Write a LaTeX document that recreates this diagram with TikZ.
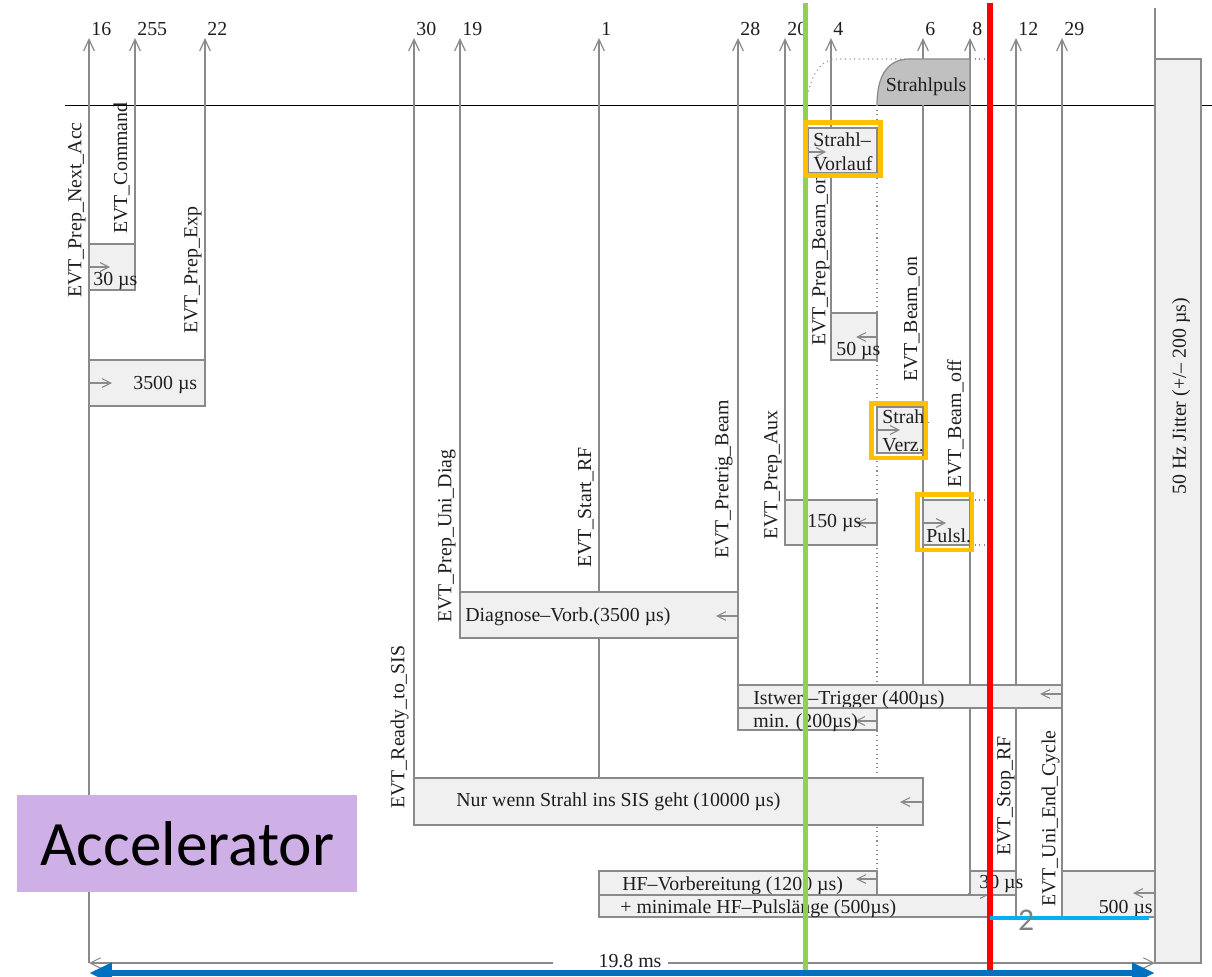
\documentclass[tikz,border=0pt]{standalone}
\usepackage{fontspec}
\setmainfont{Liberation Serif}
\newfontfamily\calfont{Carlito}
\usetikzlibrary{arrows.meta}
\definecolor{boxfill}{HTML}{F0F0F0}
\definecolor{evgray}{HTML}{8A8A8A}
\definecolor{txt}{HTML}{1E1E1E}
\definecolor{pulsgray}{HTML}{C0C0C0}
\definecolor{oran}{HTML}{FFC000}
\definecolor{grn}{HTML}{92D050}
\definecolor{blu}{HTML}{0070C0}
\definecolor{cyn}{HTML}{00B0F0}
\definecolor{lav}{HTML}{CFB0E6}
\definecolor{twogray}{HTML}{7F7F7F}
\tikzset{
 evline/.style={draw=evgray, line width=0.7pt, -{Straight Barb[length=6.5pt,width=6pt,line width=0.7pt]}},
 tbox/.style={draw=evgray, fill=boxfill, line width=0.7pt},
 sarr/.style={draw=evgray, line width=0.6pt, -{Straight Barb[length=5pt,width=5pt,line width=0.6pt]}},
 dotl/.style={draw=evgray, line width=0.6pt, dotted},
 lbl/.style={text=txt, inner sep=0pt, font=\fontsize{11.3}{13.6}\selectfont},
 vlbl/.style={lbl, rotate=90, anchor=south west},
 num/.style={lbl, anchor=base west},
 bw/.style={lbl, anchor=base west},
 hilite/.style={draw=oran, line width=2.8pt},
 marker/.style={line width=2.9pt},
}
\begin{document}
\begin{tikzpicture}[x=0.02cm,y=-0.02cm]
\useasboundingbox (0,0) rectangle (1212,976);
% baseline
\draw[black, line width=0.5pt] (65,105) -- (1212,105);
% dotted guides
\draw[dotl] (877,105) -- (877,871);
\draw[dotl] (806,105) .. controls (810,75) and (820,59) .. (838,59) -- (910,59);
\draw[dotl] (970,59) -- (992,59) -- (992,545);
\draw[dotl] (970,500) -- (992,500);
\draw[dotl] (970,545) -- (992,545);
% event lines
\foreach \x/\yb/\n in {89/963/16, 135/290/255, 205/406/22, 414/778/30, 460/638/19, 599/778/1, 738/730/28, 785/545/20, 831/360/4, 923/685/6, 970/895/8, 1016/917/12, 1062/917/29}{
  \draw[evline] (\x,\yb) -- (\x,38);
  \node[num] (num\n) at (\x+2,36) {\n};
}
% jitter box
\draw[tbox] (1155,59) rectangle (1201,963);
\draw[evgray, line width=0.7pt] (1155,8) -- (1155,963);
\node[lbl, rotate=90] (jitter) at (1181,396) {50 Hz Jitter (+/– 200 µs)};
% Strahlpuls
\draw[draw=evgray, fill=pulsgray, line width=0.7pt] (877,105) .. controls (877,72) and (890,59) .. (910,59) -- (970,59) -- (970,105);
\node[lbl, anchor=base] (puls) at (926,92) {Strahlpuls};
% boxes
\draw[tbox] (89,244) rectangle (135,290);
\draw[sarr] (89,267) -- (110,267);
\node[bw] (t30a) at (93,285) {30 µs};
\draw[tbox] (89,360) rectangle (205,406);
\draw[sarr] (89,383) -- (112,383);
\node[bw] (t3500) at (133,389) {3500 µs};
\draw[tbox] (808,128) rectangle (877,173);
\draw[sarr] (808,152) -- (826,152);
\node[bw] (tsv1) at (813,147) {Strahl–};
\node[bw] (tsv2) at (813,171) {Vorlauf};
\draw[tbox] (831,313) rectangle (877,360);
\draw[sarr] (877,337) -- (856,337);
\node[bw] (t50) at (836,355) {50 µs};
\draw[tbox] (877,407) rectangle (923,453);
\draw[sarr] (877,430) -- (900,430);
\node[bw] (tsz1) at (882,423) {Strahl};
\node[bw] (tsz2) at (882,451) {Verz.};
\draw[tbox] (923,500) rectangle (970,545);
\draw[sarr] (923,523) -- (946,523);
\node[bw] (tpl) at (926,542) {Pulsl.};
\draw[tbox] (785,500) rectangle (877,545);
\draw[sarr] (877,523) -- (856,523);
\node[bw] (t150) at (807,527) {150 µs};
\draw[tbox] (460,592) rectangle (738,638);
\draw[sarr] (738,616) -- (716,616);
\node[bw] (tdiag) at (465,621) {Diagnose–Vorb.(3500 µs)};
\draw[tbox] (738,685) rectangle (1062,708);
\draw[sarr] (1062,694) -- (1040,694);
\node[bw] (tist) at (753,704) {Istwert–Trigger (400µs)};
\draw[tbox] (738,708) rectangle (877,730);
\draw[sarr] (877,721) -- (855,721);
\node[bw] (tmin) at (753,727) {min. (200µs)};
\draw[tbox] (414,778) rectangle (923,825);
\draw[sarr] (923,802) -- (900,802);
\node[bw] (tnur) at (456,806) {Nur wenn Strahl ins SIS geht (10000 µs)};
\draw[tbox] (599,871) rectangle (877,895);
\draw[sarr] (877,879) -- (856,879);
\node[bw] (thf) at (622,890) {HF–Vorbereitung (1200 µs)};
\draw[tbox] (599,895) rectangle (990,917);
\draw[sarr] (968,894) -- (990,894);
\node[bw] (thfp) at (620,913) {+ minimale HF–Pulslänge (500µs)};
\draw[tbox] (970,871) rectangle (1016,895);
\node[bw] (t30b) at (979,888) {30 µs};
\draw[tbox] (1062,871) rectangle (1155,917);
\draw[sarr] (1155,893) -- (1133,893);
\node[lbl, anchor=base east] (t500) at (1153,913) {500 µs};
% rotated event labels
\node[vlbl] (lNextAcc) at (86,298) {EVT\_Prep\_Next\_Acc};
\node[vlbl] (lCommand) at (130,234) {EVT\_Command};
\node[vlbl] (lPrepExp) at (202,334) {EVT\_Prep\_Exp};
\node[vlbl] (lReady) at (409,809) {EVT\_Ready\_to\_SIS};
\node[vlbl] (lUniDiag) at (456,623) {EVT\_Prep\_Uni\_Diag};
\node[vlbl] (lStartRF) at (594,568) {EVT\_Start\_RF};
\node[vlbl] (lPretrig) at (733,559) {EVT\_Pretrig\_Beam};
\node[vlbl] (lAux) at (782,540) {EVT\_Prep\_Aux};
\node[vlbl] (lPrepBeam) at (830,346) {EVT\_Prep\_Beam\_on};
\node[vlbl] (lBeamOn) at (920,382) {EVT\_Beam\_on};
\node[vlbl] (lBeamOff) at (964,488) {EVT\_Beam\_off};
\node[vlbl] (lStopRF) at (1015,856) {EVT\_Stop\_RF};
\node[vlbl] (lEndCyc) at (1060,907) {EVT\_Uni\_End\_Cycle};
% total duration
\node[lbl, anchor=base] (tdur) at (630,967) {19.8 ms};
\draw[draw=evgray, line width=0.6pt, {Straight Barb[length=6pt,width=6pt,line width=0.6pt]}-] (89,963) -- (553,963);
\draw[draw=evgray, line width=0.6pt, -{Straight Barb[length=6pt,width=6pt,line width=0.6pt]}] (668,963) -- (1155,963);
% colored overlays
\draw[grn, marker] (805.5,3) -- (805.5,970);
\draw[red, marker] (990,3) -- (990,970);
\draw[hilite] (805.5,122.5) rectangle (880.5,175.5);
\draw[hilite] (871.5,403.5) rectangle (926,458);
\draw[hilite] (917.5,494.5) rectangle (972,550);
\draw[cyn, line width=2.6pt] (990,918) -- (1149,918);
\node[text=twogray, font=\calfont\fontsize{18}{20}\selectfont, inner sep=0pt] (two) at (1026,920) {2};
\draw[blu, line width=3.4pt, {Triangle[length=13pt,width=11pt]}-{Triangle[length=13pt,width=11pt]}] (89,973) -- (1155,973);
% accelerator label
\node[fill=lav, minimum width=6.8cm, minimum height=1.94cm, inner sep=0pt, font=\calfont\fontsize{36}{40}\selectfont, text=black] (acc) at (187,843.5) {Accelerator};
\end{tikzpicture}
\end{document}
